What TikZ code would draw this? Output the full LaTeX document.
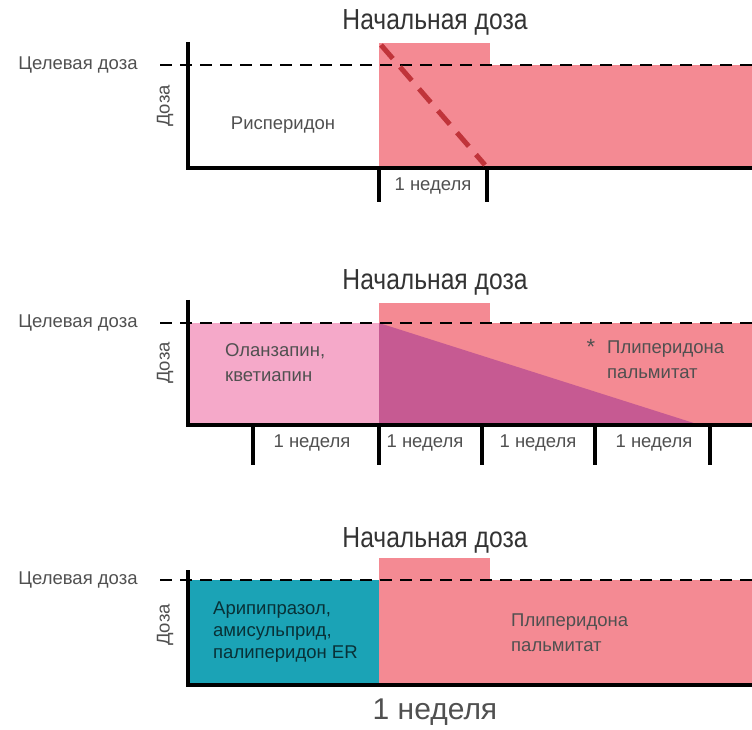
\documentclass[tikz,border=0pt]{standalone}
\usepackage{fontspec}
\setmainfont{Liberation Sans}
\newfontfamily\titlefont{Liberation Sans}[FakeStretch=0.85]
\definecolor{dosepink}{HTML}{F48A93}
\definecolor{olanpink}{HTML}{F5A9C9}
\definecolor{plum}{HTML}{C65A92}
\definecolor{aripteal}{HTML}{1BA3B6}
\definecolor{risred}{HTML}{C0343A}
\definecolor{txtgray}{HTML}{505050}
\begin{document}
\begin{tikzpicture}[x=1pt, y=1pt,
  title/.style={font=\titlefont\fontsize{29}{32}\selectfont, text=black!80},
  lbl/.style={font=\fontsize{18.5}{25}\selectfont, text=txtgray, align=left, inner sep=0pt},
  target/.style={line width=2.5pt, dash pattern=on 12pt off 8pt},
  axis/.style={line width=4pt},
  wk/.style={line width=3.5pt}]
\useasboundingbox (0,0) rectangle (752,729);

% top panel
\fill[dosepink] (379,561) rectangle (752,664);
\fill[dosepink] (379,664) rectangle (490,686);
\draw[target] (160,664) -- (752,664);
\draw[axis] (188,687) -- (188,561) -- (752,561);
\draw[wk] (379,561) -- (379,527);
\draw[wk] (487,561) -- (487,527);
\coordinate (r1) at (381,684);
\coordinate (r2) at (485,564);
\draw[risred, line width=5pt, dash pattern=on 18pt off 11pt] (r1) -- (r2);
\node[title] (t1) at (435,707) {Начальная доза};
\node[lbl] (g1) at (78,664) {Целевая доза};
\node[lbl, rotate=90] (d1) at (165,623) {Доза};
\node[lbl] (ris) at (283,604) {Рисперидон};
\node[lbl] (w1) at (433,543) {1 неделя};

% middle panel
\fill[olanpink] (188,304) rectangle (379,406);
\fill[dosepink] (379,304) rectangle (752,406);
\fill[dosepink] (379,406) rectangle (490,426);
\fill[plum] (379,406) -- (379,304) -- (700,304) -- cycle;
\draw[target] (160,406) -- (752,406);
\draw[axis] (188,429) -- (188,304) -- (752,304);
\foreach \x in {253,379,482,595,710}
  \draw[wk] (\x,304) -- (\x,264);
\node[title] (t2) at (435,447) {Начальная доза};
\node[lbl] (g2) at (78,406) {Целевая доза};
\node[lbl, rotate=90] (d2) at (165,366) {Доза};
\node[lbl, anchor=west] (olan) at (225,366) {Оланзапин,\\кветиапин};
\node[lbl, font=\fontsize{22}{24}\selectfont] (star) at (591,382) {*};
\node[lbl, anchor=west] (pal1) at (607,369) {Плиперидона\\пальмитат};
\node[lbl] (w2) at (312,286) {1 неделя};
\node[lbl] (w3) at (425,286) {1 неделя};
\node[lbl] (w4) at (538,286) {1 неделя};
\node[lbl] (w5) at (654,286) {1 неделя};

% bottom panel
\fill[aripteal] (188,44) rectangle (379,149);
\fill[dosepink] (379,44) rectangle (752,149);
\fill[dosepink] (379,149) rectangle (490,171);
\draw[target] (160,149) -- (752,149);
\draw[axis] (188,159) -- (188,44) -- (752,44);
\node[title] (t3) at (435,189) {Начальная доза};
\node[lbl] (g3) at (78,149) {Целевая доза};
\node[lbl, rotate=90] (d3) at (165,104) {Доза};
\node[lbl, anchor=west, text=aripteal!30!black, font=\fontsize{18.5}{22}\selectfont] (arip) at (213,97) {Арипипразол,\\амисульприд,\\палиперидон ER};
\node[lbl, anchor=west] (pal2) at (511,96) {Плиперидона\\пальмитат};
\node[lbl, font=\fontsize{30}{32}\selectfont] (w6) at (435,17) {1 неделя};
\end{tikzpicture}
\end{document}
